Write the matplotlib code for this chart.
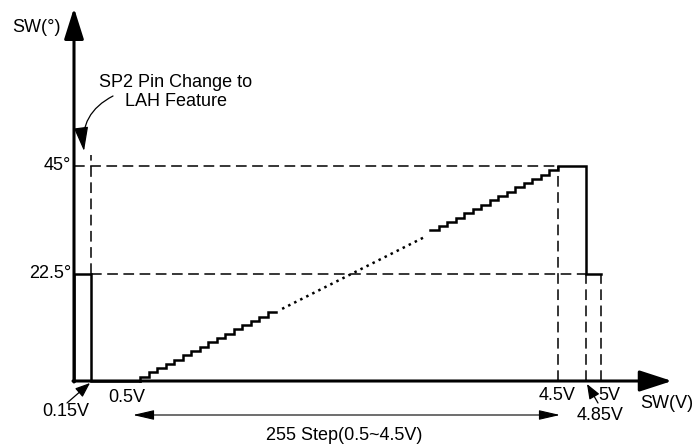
"""SW angle vs SW voltage transfer sketch (SP2 pin / LAH feature)."""

import numpy as np
import matplotlib

matplotlib.use("Agg", force=True)
import matplotlib.pyplot as plt

plt.rcParams["font.family"] = ["Liberation Sans", "DejaVu Sans"]

# axis tick values and labels
volt_ticks = [0.15, 0.5, 4.5, 4.85, 5.0]
volt_labels = ["0.15V", "0.5V", "4.5V", "4.85V", "5V"]
angle_ticks = [22.5, 45.0]
angle_labels = ["22.5°", "45°"]

# transfer curve outside the linear range
low_v = [0.0, 0.0, 0.15, 0.15, 0.5]
low_deg = [0.0, 22.5, 22.5, 0.0, 0.0]
high_v = [4.5, 4.85, 4.85, 5.0]
high_deg = [45.0, 45.0, 22.5, 22.5]

# linear range 0.5~4.5V, drawn as a schematic staircase
ramp_v = [0.5, 4.5]
ramp_deg = [0.0, 45.0]
n_treads = 49                    # treads in the sketch (real part: 255 steps)
solid_treads = [(1, 16), (35, 49)]
dotted_v = [1.86, 3.22]
dotted_deg = [15.1, 30.1]

# the sketch is not to scale: voltage -> pixel knots
V_KNOTS = [-1.0, 0.0, 0.15, 0.5, 4.5, 4.85, 5.0, 6.0]
PX_KNOTS = [-30.0, 74.0, 91.0, 140.0, 558.0, 586.0, 601.0, 705.0]
W, H = 695, 445
Y0, PX_PER_DEG = 381.0, 215.0 / 45.0
FS = 13


def fwd(v):
    return np.interp(v, V_KNOTS, PX_KNOTS)


def inv(p):
    return np.interp(p, PX_KNOTS, V_KNOTS)


def at(px, py):
    return (px / W, 1 - py / H)


def staircase(k0, k1):
    w = (ramp_v[1] - ramp_v[0]) / n_treads
    h = (ramp_deg[1] - ramp_deg[0]) / (n_treads + 1)
    k = np.arange(k0, k1 + 1)
    xs = np.r_[ramp_v[0] + (k - 1) * w, ramp_v[0] + k1 * w]
    ys = np.r_[k * h, k1 * h]
    if k0 == 1:
        xs = np.r_[ramp_v[0], xs]
        ys = np.r_[0.0, ys]
    return xs, ys


fig = plt.figure(figsize=(W / 100, H / 100), dpi=100)
ax = fig.add_axes([0, 0, 1, 1])
ax.set_xscale("function", functions=(fwd, inv))
ax.set_xlim(inv(0), inv(W))
ax.set_ylim((Y0 - H) / PX_PER_DEG, Y0 / PX_PER_DEG)
ax.axis("off")

dash = dict(color="black", lw=1.1, linestyle=(0, (7, 3.6)))
# dashed guides
ax.plot([0, volt_ticks[2]], [angle_ticks[1]] * 2, **dash)
ax.plot([volt_ticks[0], volt_ticks[3]], [angle_ticks[0]] * 2, **dash)
ax.plot([volt_ticks[0]] * 2, [angle_ticks[0], 47.3], **dash)
ax.plot([volt_ticks[2]] * 2, [0, angle_ticks[1]], **dash)
ax.plot([volt_ticks[3]] * 2, [0, angle_ticks[0]], **dash)
ax.plot([volt_ticks[4]] * 2, [0, angle_ticks[0]], **dash)

# transfer curve
solid = dict(color="black", lw=1.8, solid_joinstyle="miter")
ax.plot(low_v, low_deg, **solid)
xs, ys = staircase(*solid_treads[0])
ax.plot(xs, ys, drawstyle="steps-post", **solid)
xs, ys = staircase(*solid_treads[1])
ax.plot(np.r_[xs, high_v], np.r_[ys, high_deg], drawstyle="steps-post", **solid)
ax.plot(dotted_v, dotted_deg, color="black", lw=1.8, linestyle=(0, (1, 1.7)))

# axes with arrow heads
ax.annotate("", xy=at(74, 8), xytext=at(74, 382), xycoords="axes fraction",
            arrowprops=dict(arrowstyle="-|>,head_length=1.9,head_width=0.6",
                            lw=2.2, color="black", shrinkA=0, shrinkB=0))
ax.annotate("", xy=at(672, 381), xytext=at(73, 381), xycoords="axes fraction",
            arrowprops=dict(arrowstyle="-|>,head_length=2.0,head_width=0.65",
                            lw=2.2, color="black", shrinkA=0, shrinkB=0))
ax.text(*at(36, 27), "SW(°)", transform=ax.transAxes, fontsize=FS,
        ha="center", va="center")
ax.text(*at(693, 403), "SW(V)", transform=ax.transAxes, fontsize=FS,
        ha="right", va="center")

# tick labels
for deg, lab in zip(angle_ticks, angle_labels):
    ax.text(*at(71, Y0 - deg * PX_PER_DEG), lab, transform=ax.transAxes,
            fontsize=FS, ha="right", va="center")
ax.text(*at(127, 397), volt_labels[1], transform=ax.transAxes, fontsize=FS,
        ha="center", va="center")
ax.text(*at(557, 395), volt_labels[2], transform=ax.transAxes, fontsize=FS,
        ha="center", va="center")
ax.text(*at(609, 395), volt_labels[4], transform=ax.transAxes, fontsize=FS,
        ha="center", va="center")
small_head = dict(arrowstyle="-|>,head_length=0.9,head_width=0.35",
                  lw=0.9, color="black", shrinkA=0, shrinkB=0)
ax.annotate("", xy=at(90, 383), xytext=at(67, 403), xycoords="axes fraction",
            arrowprops=small_head)
ax.text(*at(66, 412), volt_labels[0], transform=ax.transAxes, fontsize=FS,
        ha="center", va="center")
ax.annotate("", xy=at(587, 384), xytext=at(598, 403), xycoords="axes fraction",
            arrowprops=small_head)
ax.text(*at(600, 416), volt_labels[3], transform=ax.transAxes, fontsize=FS,
        ha="center", va="center")

# 255 step span
ax.annotate("", xy=at(560, 415), xytext=at(133, 415), xycoords="axes fraction",
            arrowprops=dict(arrowstyle="<|-|>,head_length=1.3,head_width=0.3",
                            lw=0.8, color="black", shrinkA=0, shrinkB=0))
ax.text(*at(344, 435), "255 Step(0.5~4.5V)", transform=ax.transAxes,
        fontsize=FS, ha="center", va="center")

# SP2 note with curved arrow
ax.text(*at(176, 92), "SP2 Pin Change to\nLAH Feature", transform=ax.transAxes,
        fontsize=FS, ha="center", va="center", linespacing=1.15)
ax.annotate("", xy=at(84, 151), xytext=at(113, 96), xycoords="axes fraction",
            arrowprops=dict(arrowstyle="-|>,head_length=1.5,head_width=0.45",
                            lw=0.9, color="black", shrinkA=0, shrinkB=0,
                            connectionstyle="arc3,rad=0.35"))

fig.savefig("out.png", dpi=100)
